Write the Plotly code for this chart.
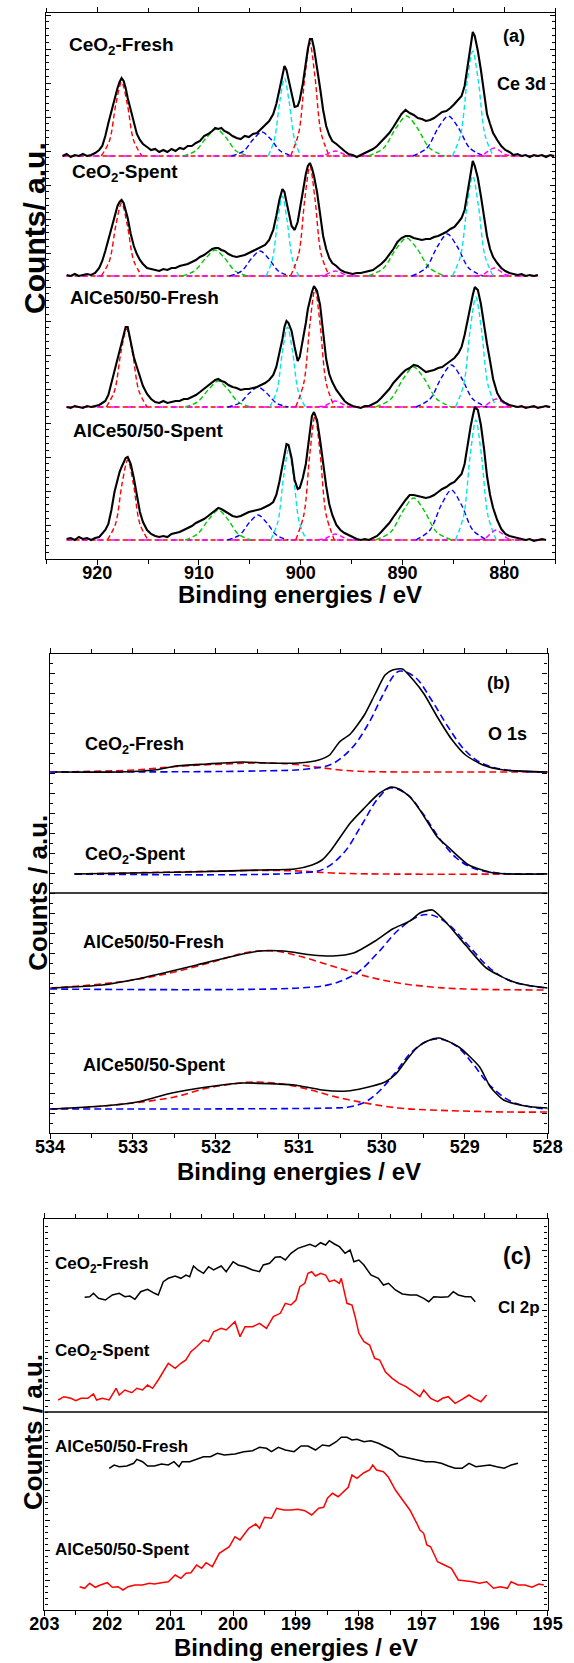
import plotly.graph_objects as go

W, H = 574, 1663
FONT = "Liberation Sans, Arial, Helvetica, sans-serif"
RED, GREEN, BLUE, CYAN, MAGENTA = "#FF0000", "#00CC00", "#0000FF", "#00E5EE", "#FF00FF"

sample_names = ["CeO<sub>2</sub>-Fresh", "CeO<sub>2</sub>-Spent", "AlCe50/50-Fresh", "AlCe50/50-Spent"]

# ---------------- Panel (a): Ce 3d ----------------
ce3d_ev = [923.4, 923.0, 922.6, 922.2, 921.8, 921.4, 921.0, 920.6, 920.2, 919.8,
           919.5, 919.2, 918.9, 918.6, 918.3, 918.0, 917.8, 917.6, 917.4, 917.2,
           917.0, 916.7, 916.4, 916.1, 915.8, 915.5, 915.1, 914.7, 914.3, 913.9,
           913.5, 913.1, 912.7, 912.3, 911.9, 911.5, 911.1, 910.7, 910.3, 909.9,
           909.5, 909.1, 908.7, 908.4, 908.1, 907.8, 907.5, 907.1, 906.7, 906.3,
           905.9, 905.5, 905.1, 904.7, 904.3, 903.9, 903.5, 903.1, 902.7, 902.4,
           902.1, 901.8, 901.6, 901.4, 901.2, 900.9, 900.6, 900.3, 900.1, 899.8,
           899.5, 899.3, 899.1, 898.9, 898.7, 898.4, 898.1, 897.8, 897.5, 897.2,
           896.9, 896.5, 896.1, 895.7, 895.3, 894.9, 894.5, 894.1, 893.7, 893.3,
           892.9, 892.5, 892.1, 891.7, 891.3, 890.9, 890.5, 890.1, 889.7, 889.3,
           888.9, 888.5, 888.1, 887.7, 887.3, 886.9, 886.5, 886.1, 885.7, 885.3,
           884.9, 884.5, 884.2, 883.9, 883.6, 883.3, 883.1, 882.9, 882.6, 882.3,
           882.0, 881.7, 881.4, 881.1, 880.7, 880.3, 879.9, 879.5, 879.1, 878.7,
           878.3, 877.9, 877.5, 877.1, 876.7, 876.3, 875.9, 875.5, 875.1]

ce3d_ceo2_fresh = [0, 2, -1, 1, 0, 2, 0, 1, 3, 6,
                   10, 20, 33, 45, 58, 68, 74, 78, 75, 68,
                   58, 45, 32, 22, 16, 12, 9, 6, 7, 4,
                   6, 4, 7, 5, 8, 7, 10, 10, 13, 15,
                   20, 22, 25, 28, 27, 28, 25, 23, 20, 18,
                   17, 20, 19, 22, 23, 27, 30, 35, 42, 52,
                   66, 82, 90, 86, 77, 62, 49, 50, 56, 72,
                   95, 107, 117, 117, 108, 90, 68, 46, 30, 21,
                   15, 12, 8, 5, 2, 1, -1, 1, 3, 5,
                   7, 10, 14, 18, 23, 29, 36, 42, 46, 43,
                   41, 38, 37, 35, 36, 38, 41, 44, 45, 48,
                   52, 56, 60, 70, 90, 112, 124, 120, 105, 86,
                   62, 42, 32, 23, 16, 10, 6, 4, 1, 2,
                   0, 1, -1, 1, 0, 1, -1, 1, 0]

ce3d_ceo2_spent = [None, 1, 0, 2, 0, 1, 2, 1, 3, 8,
                   15, 25, 36, 47, 60, 70, 74, 76, 73, 66,
                   58, 42, 30, 22, 16, 12, 8, 7, 6, 5,
                   7, 6, 8, 8, 10, 11, 12, 14, 16, 19,
                   21, 24, 27, 28, 28, 26, 25, 22, 20, 19,
                   20, 21, 23, 25, 27, 29, 31, 36, 46, 60,
                   76, 87, 84, 74, 63, 50, 46, 54, 66, 85,
                   102, 110, 113, 108, 100, 84, 60, 40, 27, 18,
                   13, 10, 6, 4, 3, 2, 3, 3, 4, 5,
                   6, 9, 12, 16, 21, 27, 34, 38, 40, 40,
                   38, 37, 36, 37, 37, 39, 40, 42, 44, 47,
                   49, 54, 58, 66, 86, 105, 115, 110, 98, 80,
                   60, 40, 27, 19, 13, 8, 5, 3, 2, 1,
                   2, 0, 1, 0, 1, None, None, None, None]

ce3d_alce_fresh = [None, 0, -1, 1, 0, -1, 1, 0, 1, 2,
                   4, 6, 12, 24, 39, 50, 58, 66, 74, 80,
                   80, 64, 50, 40, 30, 21, 13, 8, 5, 4,
                   6, 4, 5, 6, 6, 8, 8, 10, 12, 15,
                   18, 21, 24, 27, 28, 26, 25, 22, 20, 19,
                   17, 18, 18, 19, 20, 22, 24, 27, 32, 40,
                   53, 68, 80, 86, 84, 76, 60, 46, 50, 66,
                   84, 98, 107, 115, 121, 116, 102, 72, 48, 33,
                   25, 17, 11, 6, 3, 1, 0, -1, 1, 1,
                   3, 5, 9, 13, 18, 24, 29, 33, 37, 39,
                   42, 41, 38, 35, 36, 37, 39, 40, 43, 46,
                   49, 54, 60, 72, 88, 103, 112, 120, 117, 103,
                   82, 63, 46, 28, 14, 7, 4, 2, 1, 0,
                   1, -1, 0, 1, -1, 0, 1, 0, None]

ce3d_alce_spent = [None, 1, 2, 0, 3, 1, 2, 0, 2, 3,
                   6, 10, 16, 30, 48, 62, 68, 73, 78, 82,
                   83, 76, 62, 45, 28, 18, 10, 6, 4, 3,
                   4, 3, 6, 7, 8, 10, 12, 14, 17, 19,
                   21, 24, 27, 30, 32, 31, 29, 27, 24, 23,
                   24, 26, 28, 29, 30, 31, 33, 35, 38, 45,
                   58, 75, 88, 96, 95, 82, 60, 51, 52, 62,
                   76, 92, 110, 124, 128, 120, 100, 75, 54, 36,
                   25, 15, 10, 7, 5, 3, 1, 0, 1, 0,
                   2, 4, 8, 12, 17, 23, 29, 35, 40, 45,
                   45, 44, 43, 42, 43, 45, 48, 51, 53, 56,
                   58, 62, 66, 76, 96, 114, 124, 133, 130, 115,
                   92, 64, 45, 32, 20, 11, 6, 4, 3, 2,
                   1, 0, 1, -1, 0, 1, 0, None, None]

ce3d_offsets = [403, 283, 152, 19]
ce3d_comp_colors = [RED, GREEN, BLUE, CYAN, RED, MAGENTA, GREEN, BLUE, CYAN, MAGENTA]

ce3d_ceo2_fresh_comp_x = [
    [919.6, 918.8, 918.16, 917.6, 917.04, 916.4, 915.6],
    [911.55, 910.35, 909.21, 908.3, 907.39, 906.35, 905.05],
    [906.8, 905.6, 904.64, 903.8, 902.96, 902.0, 900.8],
    [903.2, 902.6, 902.05, 901.6, 901.15, 900.6, 900.0],
    [901.0, 900.2, 899.6, 899.1, 898.6, 898.0, 897.2],
    [898.35, 897.65, 897.1, 896.6, 896.1, 895.55, 894.85],
    [893.35, 891.85, 890.65, 889.6, 888.55, 887.35, 885.85],
    [889.0, 887.6, 886.5, 885.5, 884.5, 883.4, 882.0],
    [885.1, 884.3, 883.66, 883.1, 882.54, 881.9, 881.1],
    [882.75, 882.05, 881.5, 881.0, 880.5, 879.95, 879.25]]
ce3d_ceo2_fresh_comp_y = [
    [0, 15, 52, 74, 52, 15, 0],
    [0, 5, 19, 27, 19, 5, 0],
    [0, 5, 17, 24, 17, 5, 0],
    [0, 16, 55, 78, 55, 16, 0],
    [0, 23, 79, 113, 79, 23, 0],
    [0, 1, 3.5, 5, 3.5, 1, 0],
    [0, 8, 28, 40, 28, 8, 0],
    [0, 8, 28, 40, 28, 8, 0],
    [0, 21, 74, 105, 74, 21, 0],
    [0, 1.6, 5.6, 8, 5.6, 1.6, 0]]

ce3d_ceo2_spent_comp_x = [
    [919.6, 918.8, 918.16, 917.6, 917.04, 916.4, 915.6],
    [911.65, 910.45, 909.31, 908.4, 907.49, 906.45, 905.15],
    [907.0, 905.8, 904.84, 904.0, 903.16, 902.2, 901.0],
    [903.4, 902.8, 902.25, 901.8, 901.35, 900.8, 900.2],
    [901.0, 900.2, 899.6, 899.1, 898.6, 898.0, 897.2],
    [898.35, 897.65, 897.1, 896.6, 896.1, 895.55, 894.85],
    [893.35, 891.85, 890.65, 889.6, 888.55, 887.35, 885.85],
    [889.1, 887.7, 886.6, 885.6, 884.6, 883.5, 882.1],
    [885.1, 884.3, 883.66, 883.1, 882.54, 881.9, 881.1],
    [882.75, 882.05, 881.5, 881.0, 880.5, 879.95, 879.25]]
ce3d_ceo2_spent_comp_y = [
    [0, 15, 51, 73, 51, 15, 0],
    [0, 5, 18, 26, 18, 5, 0],
    [0, 5, 17.5, 25, 17.5, 5, 0],
    [0, 16, 56, 80, 56, 16, 0],
    [0, 22, 77, 110, 77, 22, 0],
    [0, 1, 3.5, 5, 3.5, 1, 0],
    [0, 8, 27, 38, 27, 8, 0],
    [0, 8, 29, 42, 29, 8, 0],
    [0, 20, 70, 100, 70, 20, 0],
    [0, 1.6, 5.6, 8, 5.6, 1.6, 0]]

ce3d_alce_fresh_comp_x = [
    [919.1, 918.3, 917.66, 917.1, 916.54, 915.9, 915.1],
    [911.35, 910.15, 909.01, 908.1, 907.19, 906.15, 904.85],
    [907.2, 906.0, 905.04, 904.2, 903.36, 902.4, 901.2],
    [903.05, 902.35, 901.79, 901.3, 900.81, 900.25, 899.55],
    [900.5, 899.7, 899.1, 898.6, 898.1, 897.5, 896.7],
    [898.35, 897.65, 897.1, 896.6, 896.1, 895.55, 894.85],
    [892.65, 891.15, 889.95, 888.9, 887.85, 886.65, 885.15],
    [888.7, 887.3, 886.2, 885.2, 884.2, 883.1, 881.7],
    [884.8, 884.0, 883.36, 882.8, 882.24, 881.6, 880.8],
    [882.55, 881.85, 881.3, 880.8, 880.3, 879.75, 879.05]]
ce3d_alce_fresh_comp_y = [
    [0, 16, 55, 78, 55, 16, 0],
    [0, 5, 18, 26, 18, 5, 0],
    [0, 4, 14, 20, 14, 4, 0],
    [0, 16, 56, 80, 56, 16, 0],
    [0, 24, 83, 118, 83, 24, 0],
    [0, 1.2, 4.2, 6, 4.2, 1.2, 0],
    [0, 8, 28, 40, 28, 8, 0],
    [0, 8, 29, 42, 29, 8, 0],
    [0, 22, 77, 110, 77, 22, 0],
    [0, 1.6, 5.6, 8, 5.6, 1.6, 0]]

ce3d_alce_spent_comp_x = [
    [919.0, 918.2, 917.56, 917.0, 916.44, 915.8, 915.0],
    [911.35, 910.15, 909.01, 908.1, 907.19, 906.15, 904.85],
    [907.2, 906.0, 905.04, 904.2, 903.36, 902.4, 901.2],
    [902.95, 902.25, 901.69, 901.2, 900.71, 900.15, 899.45],
    [900.5, 899.7, 899.1, 898.6, 898.1, 897.5, 896.7],
    [898.35, 897.65, 897.1, 896.6, 896.1, 895.55, 894.85],
    [892.65, 891.15, 889.95, 888.9, 887.85, 886.65, 885.15],
    [888.7, 887.3, 886.2, 885.2, 884.2, 883.1, 881.7],
    [884.8, 884.0, 883.36, 882.8, 882.24, 881.6, 880.8],
    [882.55, 881.85, 881.3, 880.8, 880.3, 879.75, 879.05]]
ce3d_alce_spent_comp_y = [
    [0, 16, 56, 80, 56, 16, 0],
    [0, 6, 21, 30, 21, 6, 0],
    [0, 5, 17.5, 25, 17.5, 5, 0],
    [0, 18, 63, 90, 63, 18, 0],
    [0, 25, 87, 124, 87, 25, 0],
    [0, 1.2, 4.2, 6, 4.2, 1.2, 0],
    [0, 8, 29, 42, 29, 8, 0],
    [0, 10, 35, 50, 35, 10, 0],
    [0, 24, 84, 120, 84, 24, 0],
    [0, 2, 7, 10, 7, 2, 0]]

# ---------------- Panel (b): O 1s ----------------
o1s_offsets = [361, 259, 145, 24]
o1s_ceo2_fresh_ev = [533.94, 533.16, 532.74, 532.48, 532.11, 531.68, 531.39, 531.01, 530.76, 530.63,
                     530.51, 530.38, 530.21, 530.08, 529.96, 529.87, 529.75, 529.62, 529.49, 529.33,
                     529.16, 528.99, 528.78, 528.53, 528.0]
o1s_ceo2_fresh = [0, 0, 2, 6, 8, 10, 9, 9, 12, 17, 30, 38, 57, 78, 97, 102, 103, 92, 78, 55,
                  33, 17, 7, 2, 0]
o1s_ceo2_spent_ev = [533.71, 532.32, 531.47, 531.05, 530.84, 530.72, 530.61, 530.38, 530.21, 530.04,
                     529.89, 529.79, 529.66, 529.54, 529.33, 529.2, 528.95, 528.65, 528.0]
o1s_ceo2_spent = [0, 2, 4, 5, 9, 14, 24, 51, 66, 80, 87, 85, 77, 64, 37, 27, 9, 1, 0]
o1s_alce_fresh_ev = [533.98, 533.37, 532.95, 532.53, 532.23, 531.89, 531.47, 531.18, 530.84, 530.59,
                     530.34, 530.08, 529.87, 529.66, 529.54, 529.39, 529.24, 528.99, 528.74, 528.44,
                     528.19, 528.0]
o1s_alce_fresh = [0, 3, 9, 17, 23, 30, 37, 37, 33, 32, 35, 47, 59, 67, 75, 78, 67, 43, 20, 7, 2, 0]
o1s_alce_spent_ev = [533.98, 533.37, 532.95, 532.53, 532.11, 531.68, 531.26, 531.05, 530.72, 530.42,
                     530.21, 529.96, 529.83, 529.71, 529.58, 529.45, 529.31, 529.07, 528.82, 528.69,
                     528.53, 528.27, 528.0]
o1s_alce_spent = [0, 3, 7, 16, 22, 26, 25, 24, 19, 18, 21, 27, 35, 48, 61, 68, 71, 62, 42, 22,
                  9, 3, 1]

# fitted components: [red (531.5 eV), blue (529.5 eV)]
o1s_ceo2_fresh_red_x = [534.0, 533.0, 532.4, 531.9, 531.5, 531.1, 530.8, 530.5, 530.2, 529.5, 528.0]
o1s_ceo2_fresh_red_y = [0, 2, 6, 8, 9, 8, 5, 2, 0.5, 0, 0]
o1s_ceo2_fresh_blue_x = [534.0, 531.5, 530.9, 530.6, 530.35, 530.15, 530.0, 529.85, 529.78, 529.6, 529.4,
                         529.2, 529.0, 528.8, 528.5, 528.0]
o1s_ceo2_fresh_blue_y = [0, 1, 3, 8, 25, 50, 75, 97, 101, 95, 72, 45, 22, 9, 2, 0]
o1s_ceo2_spent_red_x = [533.7, 532.5, 531.5, 531.0, 530.6, 530.0, 528.0]
o1s_ceo2_spent_red_y = [0, 2, 3.5, 3, 1, 0, 0]
o1s_ceo2_spent_blue_x = [533.7, 531.0, 530.7, 530.45, 530.25, 530.05, 529.9, 529.7, 529.5, 529.3, 529.1,
                         528.9, 528.6, 528.0]
o1s_ceo2_spent_blue_y = [0, 1, 5, 22, 48, 75, 86, 80, 60, 35, 16, 6, 1, 0]
o1s_alce_fresh_red_x = [534.0, 533.5, 533.0, 532.5, 532.0, 531.6, 531.3, 531.0, 530.6, 530.2, 529.8,
                        529.4, 529.0, 528.0]
o1s_alce_fresh_red_y = [0, 3, 8, 16, 27, 36, 37, 32, 22, 12, 5, 1, -1, -2]
o1s_alce_fresh_blue_x = [534.0, 531.0, 530.6, 530.3, 530.05, 529.8, 529.55, 529.4, 529.2, 528.95, 528.7,
                         528.45, 528.2, 528.0]
o1s_alce_fresh_blue_y = [-1, 0, 4, 15, 35, 58, 72, 73, 64, 42, 20, 7, 2, 0]
o1s_alce_spent_red_x = [534.0, 533.5, 533.0, 532.5, 532.1, 531.8, 531.55, 531.2, 530.9, 530.6, 530.2,
                        529.8, 529.4, 528.5, 528.0]
o1s_alce_spent_red_y = [0, 2, 6, 12, 21, 25, 27, 25, 20, 13, 6, 1, -1, -3, -3]
o1s_alce_spent_blue_x = [534.0, 530.6, 530.4, 530.2, 530.04, 529.85, 529.65, 529.45, 529.3, 529.1, 528.9,
                         528.7, 528.45, 528.2, 528.0]
o1s_alce_spent_blue_y = [0, 1, 2, 7, 17, 35, 56, 68, 70, 63, 45, 24, 8, 2, 0]

# ---------------- Panel (c): Cl 2p ----------------
cl2p_ceo2_fresh_ev = [202.36, 202.28, 202.22, 202.14, 202.03, 201.92, 201.81, 201.72, 201.64, 201.56,
                      201.47, 201.36, 201.25, 201.19, 201.11, 201.03, 200.92, 200.83, 200.75, 200.69,
                      200.63, 200.56, 200.47, 200.39, 200.31, 200.19, 200.11, 200.0, 199.92, 199.81,
                      199.69, 199.58, 199.52, 199.42, 199.33, 199.25, 199.17, 199.08, 198.97, 198.86,
                      198.78, 198.69, 198.61, 198.53, 198.47, 198.39, 198.31, 198.22, 198.14, 198.08,
                      198.0, 197.92, 197.81, 197.69, 197.61, 197.53, 197.42, 197.31, 197.19, 197.08,
                      196.97, 196.89, 196.81, 196.69, 196.58, 196.5, 196.42, 196.31, 196.22, 196.15]
cl2p_ceo2_fresh = [312.7, 313.3, 316.7, 311.7, 310.0, 315.0, 316.7, 313.3, 314.0, 310.7,
                   318.3, 320.7, 316.7, 315.0, 328.3, 331.7, 334.0, 331.7, 335.0, 333.3,
                   344.0, 340.0, 336.7, 343.3, 340.0, 344.0, 338.3, 348.3, 345.0, 343.3,
                   340.0, 338.3, 345.0, 346.7, 352.7, 353.3, 350.0, 356.7, 361.7, 364.0,
                   365.7, 363.3, 367.3, 365.0, 369.3, 366.0, 363.3, 356.7, 360.0, 348.3,
                   350.0, 345.0, 335.0, 331.7, 325.0, 326.7, 320.0, 316.0, 315.0, 315.0,
                   311.7, 308.3, 313.3, 312.7, 313.3, 318.3, 315.0, 313.3, 313.3, 308.3]

cl2p_ceo2_spent_ev = [202.78, 202.69, 202.58, 202.5, 202.42, 202.31, 202.22, 202.17, 202.08, 201.97,
                      201.86, 201.81, 201.72, 201.61, 201.53, 201.44, 201.36, 201.28, 201.19, 201.11,
                      201.03, 200.92, 200.83, 200.75, 200.67, 200.58, 200.47, 200.39, 200.31, 200.19,
                      200.11, 199.97, 199.89, 199.81, 199.69, 199.58, 199.47, 199.36, 199.25, 199.17,
                      199.08, 199.0, 198.94, 198.86, 198.81, 198.75, 198.69, 198.61, 198.53, 198.47,
                      198.39, 198.31, 198.28, 198.19, 198.11, 198.06, 198.0, 197.92, 197.83, 197.75,
                      197.67, 197.58, 197.47, 197.36, 197.25, 197.14, 197.03, 196.97, 196.86, 196.75,
                      196.67, 196.58, 196.47, 196.36, 196.25, 196.17, 196.06, 195.97]
cl2p_ceo2_spent = [210.0, 213.3, 211.7, 209.3, 211.7, 211.7, 216.0, 210.0, 211.7, 210.0,
                   221.7, 215.0, 220.0, 217.3, 221.7, 220.0, 225.0, 221.7, 230.0, 238.3,
                   246.7, 241.7, 246.7, 250.0, 258.3, 263.3, 270.0, 268.3, 278.3, 281.7,
                   280.0, 288.3, 273.3, 283.3, 283.3, 286.7, 281.7, 293.3, 296.7, 306.7,
                   305.0, 310.0, 323.3, 326.7, 336.7, 338.3, 334.0, 336.7, 335.0, 328.3,
                   330.0, 326.7, 331.7, 306.7, 305.0, 293.3, 276.7, 268.3, 265.0, 251.7,
                   250.0, 238.3, 231.7, 226.7, 223.3, 218.3, 213.3, 220.0, 211.7, 208.3,
                   211.7, 213.3, 206.7, 210.7, 215.0, 211.7, 208.3, 215.0]

cl2p_alce_fresh_ev = [201.97, 201.89, 201.81, 201.69, 201.58, 201.53, 201.44, 201.36, 201.25, 201.14,
                      201.03, 200.94, 200.86, 200.81, 200.69, 200.58, 200.47, 200.36, 200.25, 200.14,
                      199.97, 199.83, 199.69, 199.58, 199.47, 199.39, 199.28, 199.17, 199.03, 198.92,
                      198.81, 198.69, 198.58, 198.47, 198.36, 198.28, 198.19, 198.11, 198.03, 197.92,
                      197.81, 197.69, 197.58, 197.47, 197.36, 197.25, 197.14, 197.03, 196.94, 196.81,
                      196.69, 196.58, 196.47, 196.36, 196.25, 196.14, 196.03, 195.92, 195.81, 195.69,
                      195.58, 195.47]
cl2p_alce_fresh = [141.7, 145.0, 143.3, 144.0, 146.7, 150.7, 148.3, 144.0, 144.0, 146.0,
                   145.0, 148.3, 143.3, 148.3, 148.3, 150.7, 153.3, 153.3, 156.7, 155.0,
                   156.0, 158.3, 159.3, 162.7, 161.7, 158.3, 162.7, 160.0, 158.3, 164.0,
                   164.0, 160.0, 165.0, 164.0, 168.3, 172.7, 172.7, 170.0, 170.7, 168.3,
                   169.3, 166.7, 163.3, 160.0, 154.0, 152.7, 150.7, 150.0, 148.3, 148.3,
                   146.7, 144.0, 141.7, 141.7, 146.7, 143.3, 144.0, 145.0, 143.3, 141.7,
                   145.0, 146.7]

cl2p_alce_spent_ev = [202.44, 202.36, 202.28, 202.19, 202.11, 202.0, 201.92, 201.83, 201.75, 201.67,
                      201.56, 201.44, 201.33, 201.25, 201.14, 201.03, 200.92, 200.83, 200.75, 200.67,
                      200.58, 200.5, 200.43, 200.33, 200.22, 200.14, 200.06, 199.97, 199.89, 199.81,
                      199.75, 199.64, 199.58, 199.5, 199.39, 199.31, 199.19, 199.08, 198.97, 198.86,
                      198.75, 198.64, 198.56, 198.5, 198.42, 198.33, 198.25, 198.17, 198.11, 198.03,
                      197.92, 197.83, 197.78, 197.72, 197.61, 197.53, 197.42, 197.31, 197.19, 197.08,
                      197.03, 196.97, 196.92, 196.86, 196.75, 196.64, 196.53, 196.42, 196.31, 196.19,
                      196.08, 195.97, 195.86, 195.75, 195.64, 195.58, 195.47, 195.36, 195.25, 195.14,
                      195.06]
cl2p_alce_spent = [23.3, 21.7, 26.7, 22.7, 25.0, 27.3, 22.7, 23.3, 20.0, 23.3,
                   25.0, 25.0, 26.7, 26.0, 27.3, 28.3, 35.0, 31.7, 36.7, 37.3,
                   45.0, 41.7, 47.3, 43.3, 56.7, 60.0, 63.3, 73.3, 70.0, 76.7,
                   81.7, 86.0, 81.7, 92.7, 91.7, 101.7, 100.0, 100.0, 100.7, 99.3,
                   95.0, 101.7, 102.7, 111.7, 116.7, 113.3, 118.3, 122.7, 135.0, 131.7,
                   137.3, 140.0, 145.0, 140.0, 138.3, 132.7, 120.0, 110.0, 100.0, 86.7,
                   80.0, 76.7, 65.0, 63.3, 48.3, 45.0, 41.7, 30.0, 29.3, 28.3,
                   26.7, 28.3, 21.7, 23.3, 21.7, 28.3, 25.0, 25.0, 22.7, 26.0,
                   25.0]

# ---------------- layout geometry (pixels) ----------------
def pxx(p):
    return p / W

def pxy(p):
    return 1 - p / H

fig = go.Figure()
DASH = "5px,3px"

# Panel (a)
a_specs = [
    (ce3d_ceo2_fresh, ce3d_ceo2_fresh_comp_x, ce3d_ceo2_fresh_comp_y),
    (ce3d_ceo2_spent, ce3d_ceo2_spent_comp_x, ce3d_ceo2_spent_comp_y),
    (ce3d_alce_fresh, ce3d_alce_fresh_comp_x, ce3d_alce_fresh_comp_y),
    (ce3d_alce_spent, ce3d_alce_spent_comp_x, ce3d_alce_spent_comp_y),
]
for (vals, cxs, cys), off in zip(a_specs, ce3d_offsets):
    valid = [e for e, v in zip(ce3d_ev, vals) if v is not None]
    x0, x1 = max(valid), min(valid)
    fig.add_trace(go.Scatter(x=[x0, x1], y=[off, off], mode="lines", xaxis="x", yaxis="y",
                             line=dict(color=RED, width=1.6, dash=DASH), hoverinfo="skip"))
    fig.add_trace(go.Scatter(x=[x0, x1], y=[off, off], mode="lines", xaxis="x", yaxis="y",
                             line=dict(color=MAGENTA, width=1.6, dash="6px,9px"), hoverinfo="skip"))
    for cx, cy, col in zip(cxs, cys, ce3d_comp_colors):
        fig.add_trace(go.Scatter(x=cx, y=[v + off for v in cy], mode="lines", xaxis="x", yaxis="y",
                                 line=dict(color=col, width=1.4, dash=DASH, shape="spline", smoothing=0.9),
                                 hoverinfo="skip"))
    fig.add_trace(go.Scatter(x=ce3d_ev, y=[None if v is None else v + off for v in vals],
                             mode="lines", xaxis="x", yaxis="y",
                             line=dict(color="black", width=2.1)))

# Panel (b)
b_specs = [
    (o1s_ceo2_fresh_ev, o1s_ceo2_fresh, o1s_ceo2_fresh_red_x, o1s_ceo2_fresh_red_y, o1s_ceo2_fresh_blue_x, o1s_ceo2_fresh_blue_y),
    (o1s_ceo2_spent_ev, o1s_ceo2_spent, o1s_ceo2_spent_red_x, o1s_ceo2_spent_red_y, o1s_ceo2_spent_blue_x, o1s_ceo2_spent_blue_y),
    (o1s_alce_fresh_ev, o1s_alce_fresh, o1s_alce_fresh_red_x, o1s_alce_fresh_red_y, o1s_alce_fresh_blue_x, o1s_alce_fresh_blue_y),
    (o1s_alce_spent_ev, o1s_alce_spent, o1s_alce_spent_red_x, o1s_alce_spent_red_y, o1s_alce_spent_blue_x, o1s_alce_spent_blue_y),
]
for (ex, ey, rx, ry, bx, by), off in zip(b_specs, o1s_offsets):
    fig.add_trace(go.Scatter(x=rx, y=[v + off for v in ry], mode="lines", xaxis="x2", yaxis="y2",
                             line=dict(color=RED, width=1.6, dash="7px,4px", shape="spline"), hoverinfo="skip"))
    fig.add_trace(go.Scatter(x=bx, y=[v + off for v in by], mode="lines", xaxis="x2", yaxis="y2",
                             line=dict(color=BLUE, width=1.6, dash="7px,4px", shape="spline"), hoverinfo="skip"))
    fig.add_trace(go.Scatter(x=ex, y=[v + off for v in ey], mode="lines", xaxis="x2", yaxis="y2",
                             line=dict(color="black", width=1.6, shape="spline", smoothing=0.6)))

# Panel (c)
c_specs = [
    (cl2p_ceo2_fresh_ev, cl2p_ceo2_fresh, "black"),
    (cl2p_ceo2_spent_ev, cl2p_ceo2_spent, RED),
    (cl2p_alce_fresh_ev, cl2p_alce_fresh, "black"),
    (cl2p_alce_spent_ev, cl2p_alce_spent, RED),
]
for ex, ey, col in c_specs:
    fig.add_trace(go.Scatter(x=ex, y=ey, mode="lines", xaxis="x3", yaxis="y3",
                             line=dict(color=col, width=1.5)))

tickfont = dict(family=FONT, size=18, color="black", weight="bold")

def xax(domain, rng, dtick, minor_dtick, anchor):
    return dict(domain=domain, range=rng, autorange=False, anchor=anchor,
                showline=True, linecolor="black", linewidth=1.3, mirror="ticks",
                ticks="outside", ticklen=5, tickwidth=1.2, tickcolor="black",
                dtick=dtick, tick0=0, showgrid=False, zeroline=False, tickfont=tickfont,
                ticklabeloverflow="allow", ticklabelstandoff=-8,
                minor=dict(dtick=minor_dtick, ticks="outside", ticklen=3.5, tickwidth=1, tickcolor="black"))

def yax(domain, rng, dtick, minor_dtick, anchor):
    return dict(domain=domain, range=rng, autorange=False, anchor=anchor,
                showline=True, linecolor="black", linewidth=1.3, mirror="ticks",
                ticks="inside", ticklen=5, tickwidth=1, tickcolor="black", dtick=dtick, tick0=0,
                showticklabels=False, showgrid=False, zeroline=False,
                minor=dict(dtick=minor_dtick, ticks="inside", ticklen=3, tickwidth=0.8, tickcolor="black"))

fig.update_layout(
    width=W, height=H, margin=dict(l=0, r=0, t=0, b=0),
    paper_bgcolor="white", plot_bgcolor="white", showlegend=False,
    xaxis=xax([pxx(33), pxx(570)], [925, 875], 10, 5, "y"),
    yaxis=yax([pxy(559), pxy(13)], [0, 546], 34, 6.8, "x"),
    xaxis2=xax([pxx(37), pxx(562)], [534, 528], 1, 0.5, "y2"),
    yaxis2=yax([pxy(1133), pxy(654)], [0, 479], 20, 10, "x2"),
    xaxis3=xax([pxx(31), pxx(562)], [203, 195], 1, 0.5, "y3"),
    yaxis3=yax([pxy(1610), pxy(1219)], [0, 391], 30, 6, "x3"),
)

# separator lines inside panels (b) and (c)
fig.add_shape(type="line", xref="x2 domain", yref="y2", x0=0, x1=1, y0=240, y1=240,
              line=dict(color="black", width=1.4))
fig.add_shape(type="line", xref="x3 domain", yref="y3", x0=0, x1=1, y0=198, y1=198,
              line=dict(color="black", width=1.4))

def label(text, x, y, size, anchor="left", angle=0):
    fig.add_annotation(text=text, x=pxx(x), y=pxy(y), xref="paper", yref="paper",
                       xanchor=anchor, yanchor="middle", showarrow=False, textangle=angle,
                       font=dict(family=FONT, size=size, color="black", weight="bold"))

# Panel (a) labels
for name, xpos, ypos in zip(sample_names, [55, 58, 56, 59], [46, 173, 297, 430]):
    label(name, xpos, ypos, 19)
label("(a)", 527, 36, 18, "center")
label("Ce 3d", 534, 84, 18, "center")
label("Binding energies / eV", 301, 594, 24, "center")
label("Counts/ a.u.", 21, 228, 30, "center", -90)

# Panel (b) labels
for name, ypos in zip(sample_names, [745, 855, 942, 1065]):
    label(name, 70 if "Ce50" in name else 72, ypos, 18)
label("(b)", 510, 683, 18, "center")
label("O 1s", 520, 734, 18, "center")
label("Binding energies / eV", 300, 1171, 24, "center")
label("Counts / a.u.", 24, 893, 26, "center", -90)

# Panel (c) labels
for name, ypos in zip(sample_names, [1265, 1352, 1446, 1549]):
    label(name, 40, ypos, 17)
label("(c)", 530, 1256, 23, "center")
label("Cl 2p", 532, 1307, 17, "center")
label("Binding energies / eV", 296, 1647, 24, "center")
label("Counts / a.u.", 19, 1432, 26, "center", -90)

fig.write_html("out.html")
